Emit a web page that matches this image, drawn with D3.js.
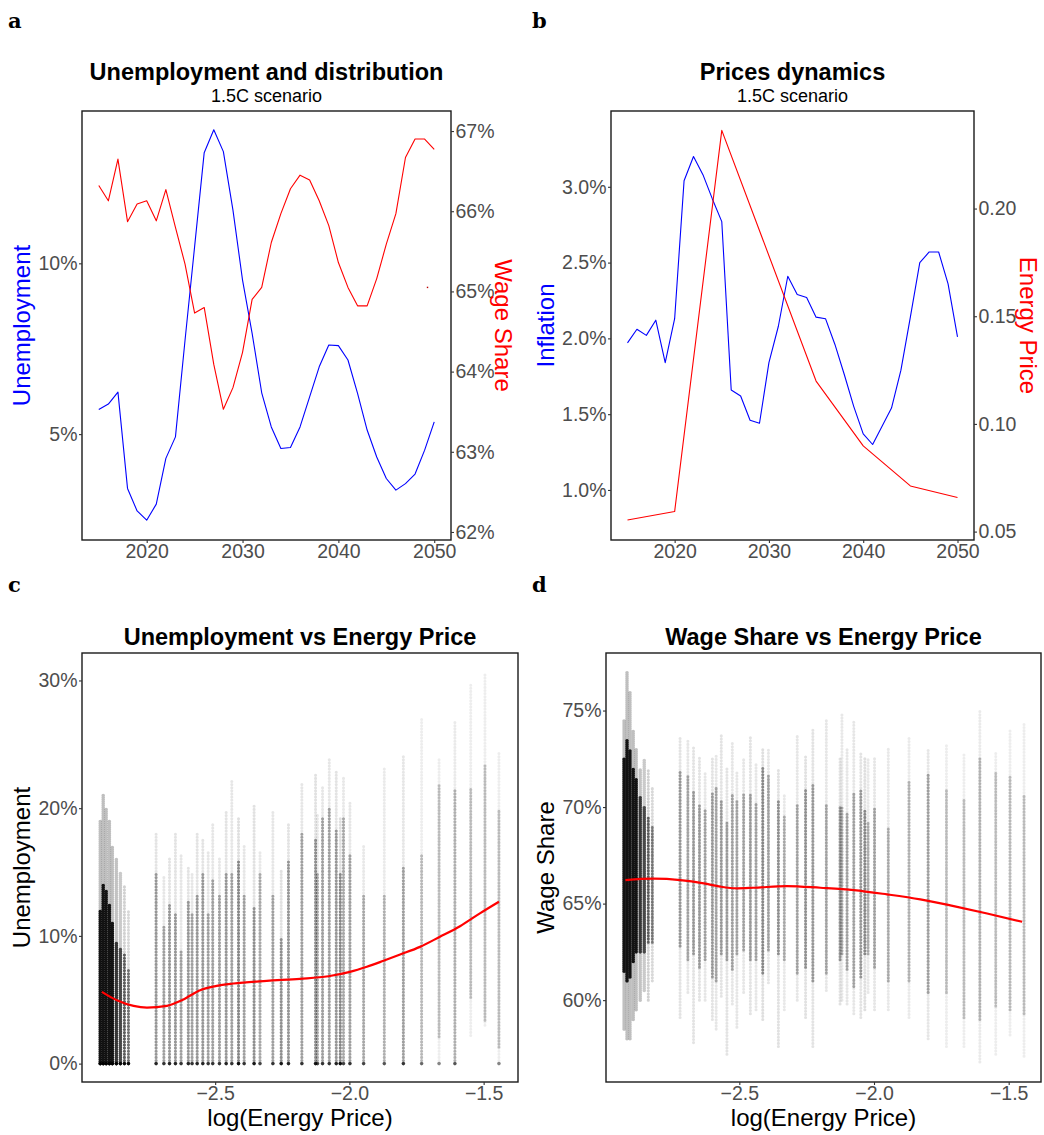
<!DOCTYPE html>
<html>
<head>
<meta charset="utf-8">
<script src="https://cdn.jsdelivr.net/npm/d3@7"></script>
<style>
	body { margin: 0; background: #fff; }
	svg text { font-family: "Liberation Sans", Arial, Helvetica, sans-serif; }
</style>
</head>
<body>
<svg id="chart" width="1044" height="1135"></svg>
<script>
// --- panel a / b : 1.5C scenario time series ---
var years = [2015, 2016, 2017, 2018, 2019, 2020, 2021, 2022, 2023, 2024, 2025, 2026,
	2027, 2028, 2029, 2030, 2031, 2032, 2033, 2034, 2035, 2036, 2037, 2038,
	2039, 2040, 2041, 2042, 2043, 2044, 2045, 2046, 2047, 2048, 2049, 2050];

var unemployment = [5.72, 5.88, 6.23, 3.41, 2.75, 2.48, 2.95, 4.29, 4.92, 7.75, 10.49, 13.24,
	13.91, 13.27, 11.56, 9.51, 7.95, 6.21, 5.21, 4.58, 4.61, 5.21, 6.09, 6.97,
	7.61, 7.59, 7.17, 6.19, 5.12, 4.33, 3.70, 3.36, 3.55, 3.83, 4.53, 5.36];

var wageShare = [66.32, 66.13, 66.65, 65.87, 66.09, 66.13, 65.88, 66.27, 65.80, 65.34, 64.73, 64.80,
	64.09, 63.53, 63.80, 64.24, 64.90, 65.05, 65.61, 65.97, 66.28, 66.45, 66.39, 66.13,
	65.82, 65.36, 65.05, 64.82, 64.82, 65.16, 65.59, 65.97, 66.67, 66.90, 66.90, 66.77];

var inflation = [1.97, 2.06, 2.02, 2.12, 1.84, 2.13, 3.04, 3.20, 3.08, 2.92, 2.77, 1.66,
	1.62, 1.46, 1.44, 1.84, 2.08, 2.41, 2.29, 2.27, 2.14, 2.13, 1.96, 1.76,
	1.55, 1.37, 1.30, 1.42, 1.54, 1.79, 2.14, 2.50, 2.57, 2.57, 2.36, 2.01];

var energyYears = [2015, 2020, 2025, 2035, 2040, 2045, 2050];
var energyPrice = [0.0554, 0.0593, 0.2363, 0.1199, 0.0898, 0.0712, 0.0658];

// a lone red mark visible in panel a
var strayYear = [2049.3];
var strayShare = [65.05];

// --- panel c / d : simulation clouds, one column per energy price level ---
var colLogPrice = [-2.928, -2.917, -2.906, -2.894, -2.883, -2.868, -2.853, -2.838, -2.823,
	-2.720, -2.691, -2.670, -2.648, -2.627, -2.600, -2.586, -2.567, -2.546, -2.526,
	-2.509, -2.484, -2.459, -2.438, -2.413, -2.392, -2.355, -2.333, -2.285, -2.254,
	-2.227, -2.177, -2.126, -2.119, -2.100, -2.075, -2.049, -2.034, -2.022, -1.998,
	-1.947, -1.870, -1.799, -1.731, -1.666, -1.607, -1.548, -1.495, -1.443];

var colDensity = [5, 7, 7, 6, 4, 2.6, 2.3, 2, 1.7,
	1.2, 1.1, 1.2, 1.2, 1.1, 1.2, 1.1, 1.2, 1.2, 1.1,
	1.1, 1.1, 1.2, 1.1, 1.4, 1.1, 1.3, 1.0, 1.1, 1.3,
	1.2, 1.1, 1.3, 1.0, 1.1, 1.1, 1.2, 1.4, 1.0, 1.1,
	1.0, 0.9, 1.1, 0.8, 0.8, 0.9, 0.8, 0.8, 0.8];

var unempLo = [0, 0, 0, 0, 0, 0, 0, 0, 0,
	0, 0, 0, 0, 0, 0, 0, 0, 0, 0,
	0, 0, 0, 0, 0, 0, 0, 0, 0, 0,
	0, 0, 0, 0, 0, 0, 0, 0, 0, 0,
	0, 0, 0, 0, 0, 0, 2.2, 3.0, 0];
var unempCoreLo = [0, 0, 0, 0, 0, 0, 0, 0, 0,
	0, 0, 0, 0, 0, 0, 0, 0, 0, 0,
	0, 0, 0, 0, 0, 0, 0, 0, 0, 0,
	0, 0, 0, 0, 0, 0, 0, 0, 0, 0,
	0, 0, 0, 0, 2.1, 0, 5.2, 3.4, 1.3];
var unempCoreHi = [12, 14, 13.5, 12.5, 11, 9.5, 9, 8.5, 7.5,
	14.9, 10.9, 12.5, 11.8, 8.9, 12.8, 11.8, 13.3, 14.9, 11.8,
	14.4, 13.3, 14.9, 14.9, 15.9, 13.3, 12.3, 14.9, 13.3, 9.9,
	15.9, 18.0, 17.5, 15.0, 19.3, 20.1, 18.3, 14.9, 19.3, 16.5,
	13.3, 13.3, 15.4, 16.5, 22.0, 21.4, 21.7, 23.5, 19.9];
var unempHi = [19, 21, 20, 19, 17, 16, 15, 14, 12,
	18.0, 14.6, 16.2, 18.0, 16.5, 15.4, 14.9, 18.1, 17.5, 16.7,
	18.8, 16.2, 19.9, 22.2, 19.3, 17.0, 20.2, 16.7, 19.7, 15.2,
	18.9, 21.9, 22.7, 19.5, 21.7, 23.8, 23.0, 19.3, 22.5, 20.4,
	17.0, 23.3, 24.2, 27.0, 23.8, 26.8, 29.8, 30.6, 24.4];

var wageLo = [58.5, 58, 58, 59, 59.5, 60, 60.5, 60, 61,
	59.1, 60.4, 57.8, 60.0, 60.0, 59.0, 58.5, 60.2, 57.2, 59.8,
	58.6, 60.4, 59.3, 59.5, 59.0, 60.9, 57.6, 59.5, 60.0, 59.1,
	57.6, 60.5, 59.8, 60.0, 59.8, 59.3, 59.1, 59.5, 60.4, 59.5,
	59.5, 59.1, 58.0, 57.6, 57.6, 56.8, 57.2, 58.2, 57.1];
var wageCoreLo = [61.5, 61, 61.2, 62, 62.5, 62.5, 62.5, 63, 63,
	62.8, 62.1, 62.4, 61.7, 62.1, 61.2, 61.0, 62.4, 62.1, 61.6,
	62.4, 62.6, 62.1, 62.1, 61.4, 62.6, 62.4, 62.1, 61.4, 61.7,
	61.0, 61.4, 62.1, 62.4, 61.6, 60.7, 61.2, 62.4, 62.4, 61.7,
	61.0, 61.0, 60.4, 60.4, 59.1, 59.0, 59.7, 59.5, 59.3];
var wageCoreHi = [72.5, 73.5, 73, 72, 71.5, 70.5, 70, 69.5, 69,
	71.9, 71.6, 70.9, 70.2, 69.9, 70.7, 71.1, 70.4, 69.3, 70.7,
	70.4, 70.7, 70.7, 70.2, 72.1, 71.6, 70.4, 69.5, 70.2, 70.9,
	71.2, 70.2, 70.0, 70.0, 69.7, 70.7, 70.9, 69.9, 69.3, 70.0,
	69.0, 71.4, 71.7, 70.9, 70.4, 72.6, 71.8, 71.6, 70.6];
var wageHi = [74.5, 77, 76, 74, 73, 72, 72.5, 72, 71,
	73.7, 73.5, 73.1, 72.6, 71.8, 72.6, 72.7, 73.7, 72.1, 73.3,
	71.8, 72.5, 73.7, 72.3, 73.1, 73.1, 71.9, 70.7, 73.7, 72.6,
	74.0, 74.5, 72.6, 74.9, 73.1, 74.5, 72.8, 72.6, 72.5, 72.6,
	73.0, 73.6, 73.0, 73.3, 72.8, 75.0, 72.8, 74.0, 74.4];

// smoothed fits
var unempFitX = [-2.922, -2.866, -2.804, -2.754, -2.680, -2.624, -2.556, -2.494, -2.432, -2.308,
	-2.184, -2.078, -1.998, -1.935, -1.873, -1.811, -1.737, -1.663, -1.588, -1.514, -1.443];
var unempFitY = [5.62, 4.96, 4.52, 4.39, 4.52, 4.96, 5.75, 6.09, 6.27, 6.48,
	6.64, 6.84, 7.18, 7.58, 8.05, 8.54, 9.14, 9.93, 10.76, 11.76, 12.67];
var wageFitX = [-2.923, -2.818, -2.719, -2.632, -2.571, -2.509, -2.447, -2.323, -2.199, -2.075,
	-1.952, -1.828, -1.704, -1.580, -1.450];
var wageFitY = [66.22, 66.29, 66.22, 66.05, 65.88, 65.79, 65.82, 65.91, 65.82, 65.70,
	65.48, 65.22, 64.87, 64.49, 64.06];

// ticks
var yearTicks = [2020, 2030, 2040, 2050];
var unempTicksA = [5, 10];
var wageTicksA = [62, 63, 64, 65, 66, 67];
var inflationTicks = [1.0, 1.5, 2.0, 2.5, 3.0];
var energyTicks = [0.05, 0.10, 0.15, 0.20];
var logTicks = [-2.5, -2.0, -1.5];
var unempTicksC = [0, 10, 20, 30];
var wageTicksD = [60, 65, 70, 75];

var BLUE = "#0000ff", RED = "#ff0000";

var Chart = (function () {
	var svg = d3.select("#chart");

	function zip(xs, ys) {
		return xs.map(function (x, i) { return { x: x, y: ys[i] }; });
	}

	function frame(box) {
		svg.append("rect")
			.attr("x", box.x0).attr("y", box.y0)
			.attr("width", box.x1 - box.x0).attr("height", box.y1 - box.y0)
			.attr("fill", "none")
			.attr("stroke", "#1a1a1a")
			.attr("stroke-width", 1.4);
	}

	function axis(gen, pos, orient, ticks, fmt) {
		var g = svg.append("g")
			.attr("transform", orient === "bottom" ? "translate(0," + pos + ")" : "translate(" + pos + ",0)")
			.call(gen.tickValues(ticks).tickFormat(fmt).tickSize(3).tickSizeOuter(0).tickPadding(1.5));
		g.select(".domain").remove();
		g.selectAll(".tick line").attr("stroke", "#333").attr("stroke-width", 1.1);
		g.selectAll(".tick text")
			.attr("fill", "#4d4d4d")
			.style("font-size", "19.5px")
			.style("font-family", '"Liberation Sans", Arial, sans-serif');
		return g;
	}

	function letter(s, x, y) {
		svg.append("text").attr("x", x).attr("y", y)
			.style("font-family", '"DejaVu Serif", serif')
			.style("font-weight", "bold")
			.style("font-size", "21px")
			.text(s);
	}

	function titles(box, title, subtitle, titleY) {
		var cx = (box.x0 + box.x1) / 2;
		svg.append("text").attr("x", cx).attr("y", titleY)
			.attr("text-anchor", "middle")
			.style("font-weight", "bold").style("font-size", "23.5px")
			.text(title);
		if (subtitle) {
			svg.append("text").attr("x", cx).attr("y", titleY + 21.5)
				.attr("text-anchor", "middle")
				.style("font-size", "18px")
				.text(subtitle);
		}
	}

	function vtitle(s, x, box, color, angle) {
		var cy = (box.y0 + box.y1) / 2;
		svg.append("text")
			.attr("transform", "translate(" + x + "," + cy + ") rotate(" + angle + ")")
			.attr("text-anchor", "middle")
			.attr("fill", color)
			.style("font-size", "24px")
			.text(s);
	}

	function xtitle(s, box) {
		svg.append("text").attr("x", (box.x0 + box.x1) / 2).attr("y", 1126)
			.attr("text-anchor", "middle").style("font-size", "24px")
			.text(s);
	}

	function pathOf(pts, x, y, color, width, curve) {
		var line = d3.line()
			.x(function (d) { return x(d.x); })
			.y(function (d) { return y(d.y); });
		if (curve) line.curve(curve);
		svg.append("path")
			.datum(pts)
			.attr("d", line)
			.attr("fill", "none")
			.attr("stroke", color)
			.attr("stroke-width", width)
			.attr("stroke-linejoin", "round");
	}

	// each column: a faint dotted run over the full spread, a darker one over the dense core
	function cloud(x, y, lo, coreLo, coreHi, hi, withZeros) {
		var cols = colLogPrice.map(function (v, i) {
			return { x: v, lo: lo[i], q1: coreLo[i], q3: coreHi[i], hi: hi[i], n: colDensity[i] };
		});
		var g = svg.append("g");
		var dash = function (d) { return d.n > 2 ? "0 2" : "0 3.1"; };

		function run(cls, from, to, alpha) {
			g.selectAll("line." + cls)
				.data(cols)
				.enter()
					.append("line")
						.attr("class", cls)
						.attr("x1", function (d) { return x(d.x); })
						.attr("x2", function (d) { return x(d.x); })
						.attr("y1", function (d) { return y(from(d)); })
						.attr("y2", function (d) { return y(to(d)); })
						.attr("stroke", "#000")
						.attr("stroke-width", function (d) { return d.n > 2 ? 3.6 : 3.1; })
						.attr("stroke-linecap", "round")
						.attr("stroke-dasharray", dash)
						.attr("stroke-opacity", alpha);
		}

		run("faint", function (d) { return d.lo; }, function (d) { return d.hi; },
			function (d) { return Math.min(0.25, 0.09 * d.n); });
		run("core", function (d) { return d.q1; }, function (d) { return d.q3; },
			function (d) { return Math.min(0.9, 0.28 * d.n); });

		if (withZeros) {
			g.selectAll("circle")
				.data(cols.filter(function (d) { return d.lo === 0; }))
				.enter()
					.append("circle")
						.attr("cx", function (d) { return x(d.x); })
						.attr("cy", y(0))
						.attr("r", 1.8)
						.attr("fill", "#000")
						.attr("fill-opacity", function (d) { return Math.min(0.9, 0.8 * d.n - 0.2); });
		}
	}

	Chart.drawA = function () {
		var box = { x0: 82, y0: 111, x1: 451, y1: 540 };
		var x = d3.scaleLinear().domain([2013.25, 2051.75]).range([box.x0, box.x1]);
		var yl = d3.scaleLinear().domain([1.9, 14.46]).range([box.y1, box.y0]);
		var yr = d3.scaleLinear().domain([61.9, 67.25]).range([box.y1, box.y0]);

		letter("a", 8, 28);
		titles(box, "Unemployment and distribution", "1.5C scenario", 80);
		pathOf(zip(years, unemployment), x, yl, BLUE, 1.1);
		pathOf(zip(years, wageShare), x, yr, RED, 1.1);
		svg.selectAll("rect.stray")
			.data(zip(strayYear, strayShare))
			.enter()
				.append("rect")
					.attr("x", function (d) { return x(d.x) - 0.7; })
					.attr("y", function (d) { return yr(d.y) - 0.7; })
					.attr("width", 1.4).attr("height", 1.4)
					.attr("fill", "#b00");
		frame(box);
		axis(d3.axisBottom(x), box.y1, "bottom", yearTicks, d3.format("d"));
		axis(d3.axisLeft(yl), box.x0, "left", unempTicksA, function (d) { return d + "%"; });
		axis(d3.axisRight(yr), box.x1, "right", wageTicksA, function (d) { return d + "%"; });
		vtitle("Unemployment", 30, box, BLUE, -90);
		vtitle("Wage Share", 495, box, RED, 90);
	};

	Chart.drawB = function () {
		var box = { x0: 611, y0: 111, x1: 974, y1: 540 };
		var x = d3.scaleLinear().domain([2013.25, 2051.75]).range([box.x0, box.x1]);
		var yl = d3.scaleLinear().domain([0.67, 3.5]).range([box.y1, box.y0]);
		var yr = d3.scaleLinear().domain([0.0461, 0.2453]).range([box.y1, box.y0]);

		letter("b", 532, 28);
		titles(box, "Prices dynamics", "1.5C scenario", 80);
		pathOf(zip(years, inflation), x, yl, BLUE, 1.1);
		pathOf(zip(energyYears, energyPrice), x, yr, RED, 1.1);
		frame(box);
		axis(d3.axisBottom(x), box.y1, "bottom", yearTicks, d3.format("d"));
		axis(d3.axisLeft(yl), box.x0, "left", inflationTicks, function (d) { return d3.format(".1f")(d) + "%"; });
		axis(d3.axisRight(yr), box.x1, "right", energyTicks, d3.format(".2f"));
		vtitle("Inflation", 554, box, BLUE, -90);
		vtitle("Energy Price", 1020, box, RED, 90);
	};

	Chart.drawC = function () {
		var box = { x0: 82, y0: 653, x1: 518, y1: 1082 };
		var x = d3.scaleLinear().domain([-2.996, -1.372]).range([box.x0, box.x1]);
		var y = d3.scaleLinear().domain([-1.44, 32.15]).range([box.y1, box.y0]);

		letter("c", 8, 592);
		titles(box, "Unemployment vs Energy Price", null, 645);
		cloud(x, y, unempLo, unempCoreLo, unempCoreHi, unempHi, true);
		pathOf(zip(unempFitX, unempFitY), x, y, RED, 2.2, d3.curveMonotoneX);
		frame(box);
		axis(d3.axisBottom(x), box.y1, "bottom", logTicks, d3.format(".1f"));
		axis(d3.axisLeft(y), box.x0, "left", unempTicksC, function (d) { return d + "%"; });
		vtitle("Unemployment", 30, box, "#000", -90);
		xtitle("log(Energy Price)", box);
	};

	Chart.drawD = function () {
		var box = { x0: 606, y0: 653, x1: 1041, y1: 1082 };
		var x = d3.scaleLinear().domain([-2.995, -1.380]).range([box.x0, box.x1]);
		var y = d3.scaleLinear().domain([55.76, 77.98]).range([box.y1, box.y0]);

		letter("d", 532, 592);
		titles(box, "Wage Share vs Energy Price", null, 645);
		cloud(x, y, wageLo, wageCoreLo, wageCoreHi, wageHi, false);
		pathOf(zip(wageFitX, wageFitY), x, y, RED, 2.2, d3.curveMonotoneX);
		frame(box);
		axis(d3.axisBottom(x), box.y1, "bottom", logTicks, d3.format(".1f"));
		axis(d3.axisLeft(y), box.x0, "left", wageTicksD, function (d) { return d + "%"; });
		vtitle("Wage Share", 554, box, "#000", -90);
		xtitle("log(Energy Price)", box);
	};

	function Chart() {
	}

	return Chart;
})();

Chart.drawA();
Chart.drawB();
Chart.drawC();
Chart.drawD();
</script>
</body>
</html>
